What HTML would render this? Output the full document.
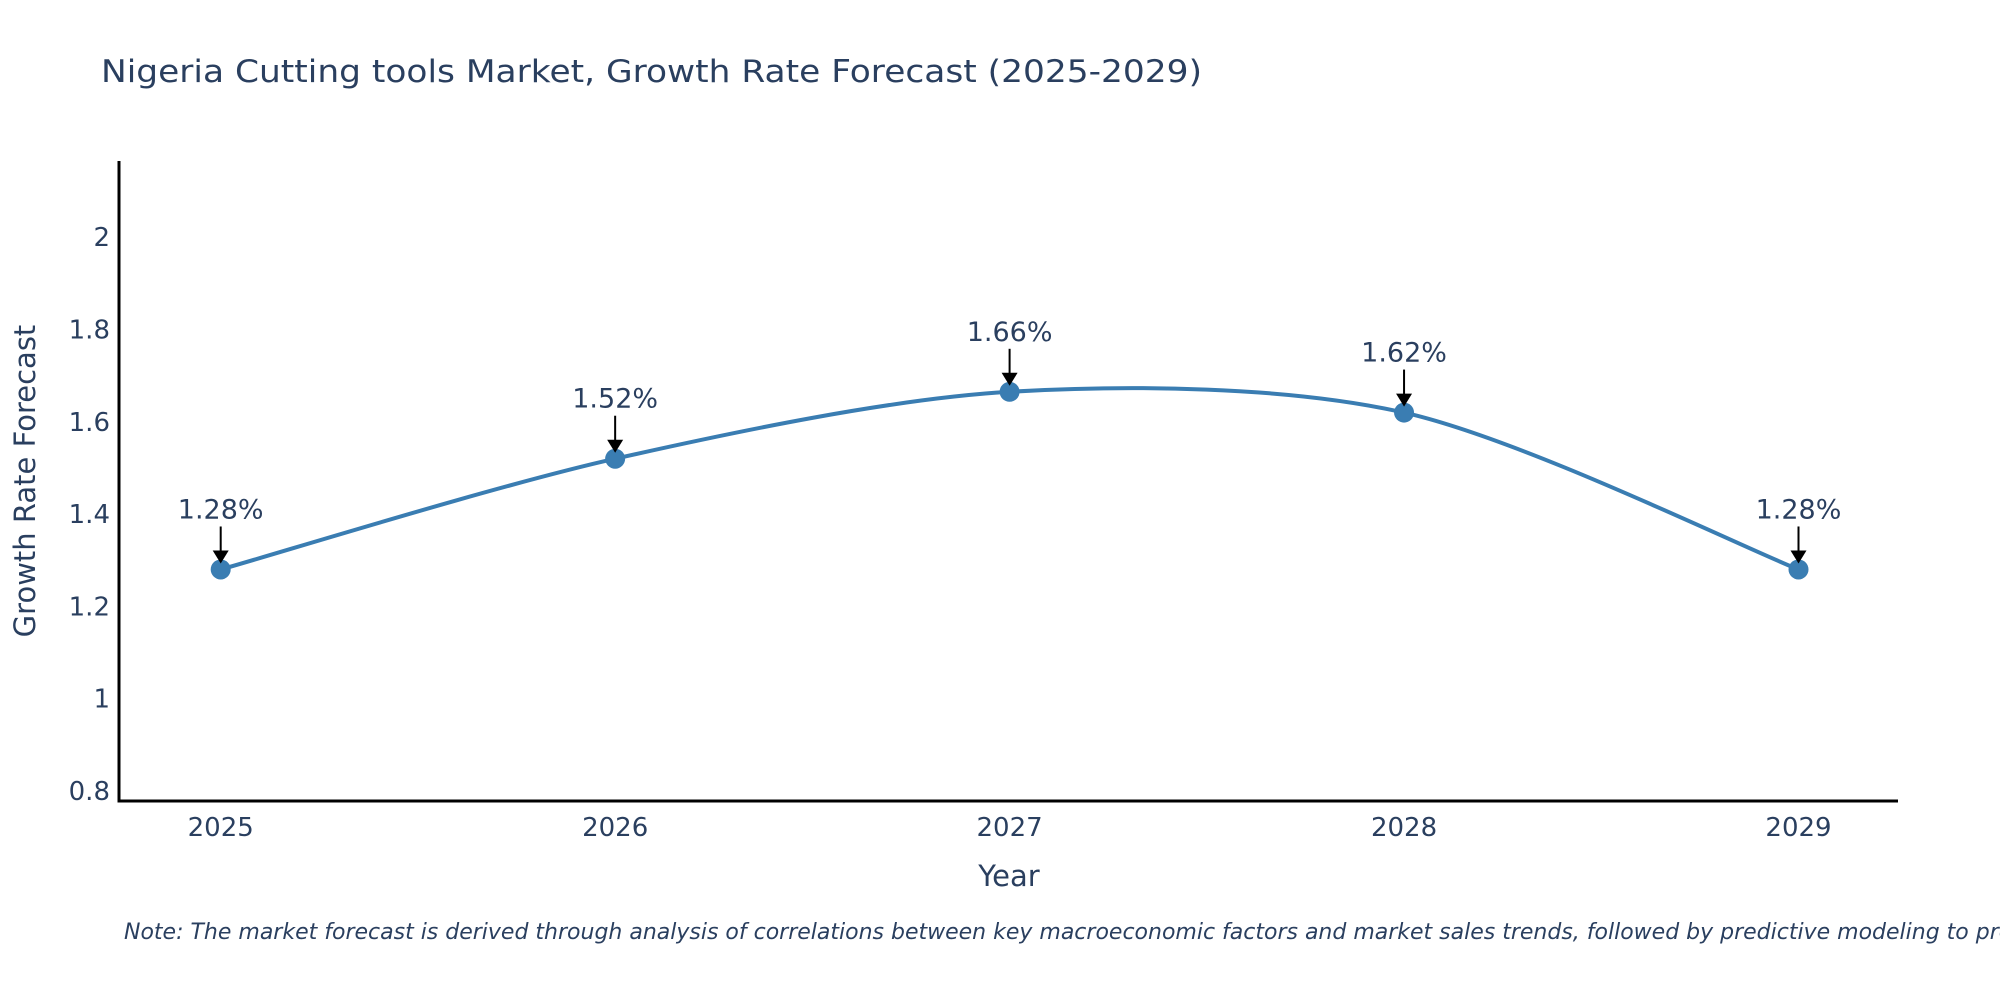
<!DOCTYPE html>
<html><head><meta charset="utf-8"><style>
html,body{margin:0;padding:0;background:#fff;width:2000px;height:1000px;overflow:hidden}
svg text{font-family:"DejaVu Sans","Liberation Sans",sans-serif;fill:#2a3f5f}
</style></head><body>
<svg id="chart" width="2000" height="1000" xmlns="http://www.w3.org/2000/svg">
<text x="101" y="82" font-size="31" textLength="1101" lengthAdjust="spacingAndGlyphs">Nigeria Cutting tools Market, Growth Rate Forecast (2025-2029)</text>
<g id="yticks"></g>
<g id="xticks"></g>
<line x1="119" y1="161" x2="119" y2="802" stroke="#000" stroke-width="3"/>
<line x1="117.5" y1="801" x2="1898" y2="801" stroke="#000" stroke-width="3"/>
<path id="line" fill="none" stroke="#3a7db2" stroke-width="4"/>
<g id="marks"></g>
<g id="ann"></g>
<text transform="translate(35,481) rotate(-90)" text-anchor="middle" font-size="29">Growth Rate Forecast</text>
<text x="1009" y="886" text-anchor="middle" font-size="29">Year</text>
<text x="124" y="939" font-size="22" font-style="italic">Note: The market forecast is derived through analysis of correlations between key macroeconomic factors and market sales trends, followed by predictive modeling to project future sales.</text>
</svg>
<script>
const years = [2025, 2026, 2027, 2028, 2029];
const growth = [1.28, 1.52, 1.665, 1.62, 1.28];
const labels = ["1.28%", "1.52%", "1.66%", "1.62%", "1.28%"];
const yTickValues = [0.8, 1, 1.2, 1.4, 1.6, 1.8, 2];
const yTickLabels = ["0.8", "1", "1.2", "1.4", "1.6", "1.8", "2"];

const NS = "http://www.w3.org/2000/svg";
function xs(yr){ return 220.7 + (yr - 2025) * 394.45; }
function ys(v){ return 791 - (v - 0.8) / 0.2 * 92.3; }
function mk(tag, attrs, parent){
  const e = document.createElementNS(NS, tag);
  for (const k in attrs) e.setAttribute(k, attrs[k]);
  parent.appendChild(e); return e;
}
const yt = document.getElementById('yticks');
yTickValues.forEach((v, i) => {
  const t = mk('text', {x: 110, y: ys(v) + 9, 'text-anchor': 'end', 'font-size': 26}, yt);
  
  
  t.textContent = yTickLabels[i];
});
const xt = document.getElementById('xticks');
years.forEach(y => {
  const t = mk('text', {x: xs(y), y: 836, 'text-anchor': 'middle', 'font-size': 26}, xt);
  
  
  t.textContent = String(y);
});
const pts = years.map((y, i) => [xs(y), ys(growth[i])]);
let d = 'M' + pts[0][0] + ',' + pts[0][1];
const s = 0.15;
for (let i = 0; i < pts.length - 1; i++) {
  const p0 = pts[Math.max(0, i - 1)], p1 = pts[i], p2 = pts[i + 1], p3 = pts[Math.min(pts.length - 1, i + 2)];
  const c1 = [p1[0] + (p2[0] - p0[0]) * s, p1[1] + (p2[1] - p0[1]) * s];
  const c2 = [p2[0] - (p3[0] - p1[0]) * s, p2[1] - (p3[1] - p1[1]) * s];
  d += ' C' + c1 + ' ' + c2 + ' ' + p2;
}
document.getElementById('line').setAttribute('d', d);
const mg = document.getElementById('marks');
const ag = document.getElementById('ann');
pts.forEach((p, i) => {
  const c = mk('circle', {cx: p[0], cy: p[1], r: 10, fill: '#3a7db2'}, mg);
  
  
  const l = mk('line', {x1: p[0], y1: p[1] - 43, x2: p[0], y2: p[1] - 16, stroke: '#000', 'stroke-width': 2}, ag);
  
  
  const h = mk('path', {d: `M${p[0]-8},${p[1]-19} L${p[0]+8},${p[1]-19} L${p[0]},${p[1]-6} Z`, fill: '#000'}, ag);
  
  
  const t = mk('text', {x: p[0], y: p[1] - 51, 'text-anchor': 'middle', 'font-size': 27}, ag);
  
  
  t.textContent = labels[i];
});
</script>
</body></html>
